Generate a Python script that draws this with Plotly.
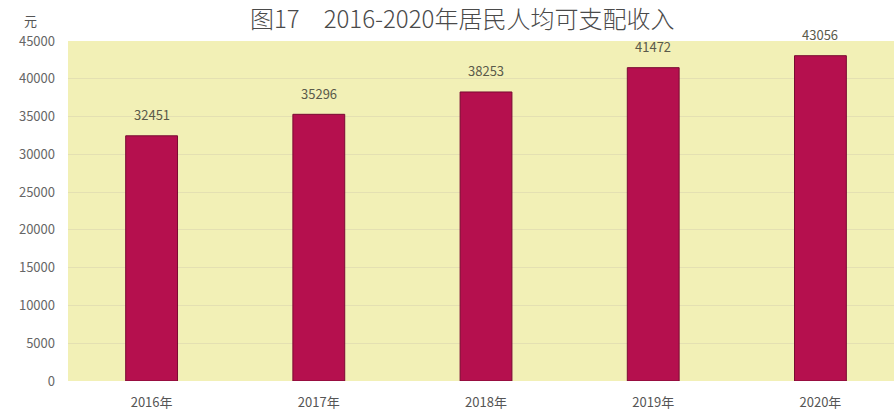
import plotly.graph_objects as go

categories = ["2016年", "2017年", "2018年", "2019年", "2020年"]
income = [32451, 35296, 38253, 41472, 43056]
y_ticks = [0, 5000, 10000, 15000, 20000, 25000, 30000, 35000, 40000, 45000]

title_text = "图17　2016-2020年居民人均可支配收入"
unit_text = "元"

FONT = "Noto Sans CJK SC, Microsoft YaHei, sans-serif"

fig = go.Figure()
fig.add_trace(go.Bar(
    x=categories,
    y=income,
    width=0.31,
    marker=dict(color="#b5104e", line=dict(color="#7a0a32", width=1)),
    hoverinfo="x+y",
))

for c, v in zip(categories, income):
    fig.add_annotation(
        x=c, y=v, text=str(v), showarrow=False, yshift=21,
        font=dict(family=FONT, size=13, color="#5a5a4a"),
    )

fig.add_annotation(
    xref="paper", yref="paper", x=-0.046, y=1.06, text=unit_text,
    showarrow=False, font=dict(family=FONT, size=13, color="#555555"),
    xanchor="center", yanchor="middle",
)

fig.update_layout(
    width=894, height=411,
    margin=dict(l=68, r=0, t=41, b=30),
    paper_bgcolor="white",
    plot_bgcolor="#f2f0b6",
    showlegend=False,
    title=dict(
        text=title_text, x=0.517, xanchor="center", y=0.953, yanchor="middle",
        font=dict(family=FONT, size=24, color="#4a4a4a", weight=300),
    ),
    xaxis=dict(
        type="category", range=[-0.5, 4.44], showgrid=False, zeroline=False,
        showline=False, ticks="",
        tickfont=dict(family=FONT, size=13, color="#555555"),
        ticklabelstandoff=12,
    ),
    yaxis=dict(
        range=[0, 45000], tickvals=y_ticks, tickformat="d",
        showgrid=True, gridcolor="#e4e0b2",
        gridwidth=1, zeroline=False, showline=False, ticks="",
        tickfont=dict(family=FONT, size=13, color="#666666"),
        ticklabelstandoff=12,
    ),
)

fig.write_html(
    "out.html",
    config={"displayModeBar": False},
    post_script="document.body.style.margin='0';",
)
